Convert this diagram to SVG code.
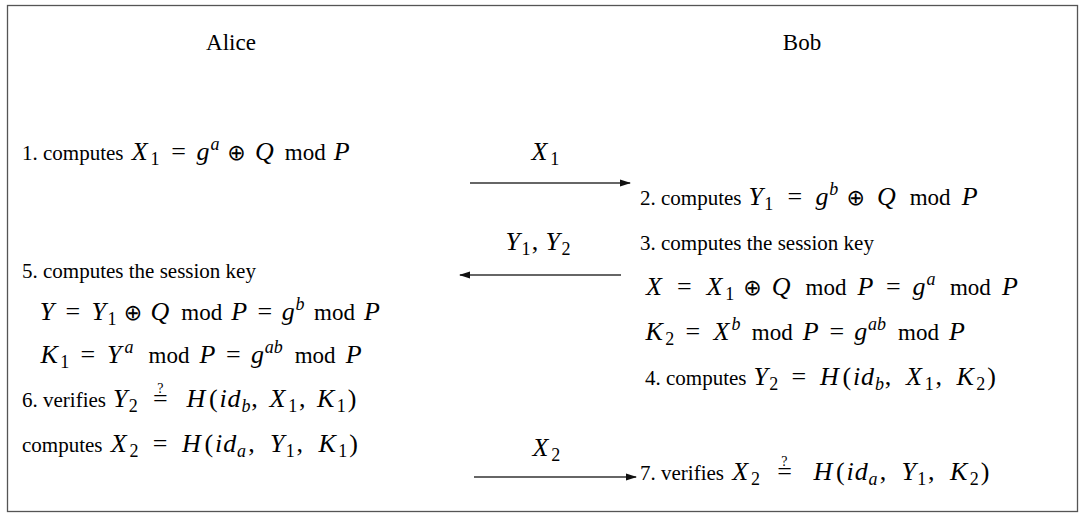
<svg xmlns="http://www.w3.org/2000/svg" width="1085" height="528" viewBox="0 0 1085 528">
<style>
.t{font-family:"Liberation Serif","Times New Roman",serif;font-size:21px;fill:#000}
.h{font-size:23px}
.m{font-style:italic;font-size:26px}
.u{font-size:26px}
.md{font-size:23px}
.sb{font-size:18px;baseline-shift:-5px}
.sp{font-size:18px;baseline-shift:10px;font-style:italic}
.q{font-size:14px;baseline-shift:14px}
.op{font-family:"DejaVu Sans","Noto Sans",sans-serif;font-size:22px}
.ar{stroke:#333;stroke-width:1.3;fill:none}
</style>
<defs>
<marker id="ah" markerWidth="11" markerHeight="8" refX="10" refY="4" orient="auto" markerUnits="userSpaceOnUse">
<path d="M0,0.5 L11,4 L0,7.5 z" fill="#111"/>
</marker>
</defs>
<rect x="7.5" y="5.5" width="1070" height="506" fill="#fff" stroke="#555" stroke-width="1.3"/>
<g id="alice"><text class="t h" x="231" y="50" text-anchor="middle">Alice</text></g>
<g id="bob"><text class="t h" x="802" y="50" text-anchor="middle">Bob</text></g>
<g id="alice-steps">
<text class="t" x="22" y="160">1. computes <tspan class="m" x="131.7">X</tspan><tspan class="sb" x="150.4">1</tspan><tspan class="u" x="171.2">=</tspan><tspan class="m" x="196.5">g</tspan><tspan class="sp" x="210.4">a</tspan><tspan class="op" x="227.2">⊕</tspan><tspan class="m" x="255.1">Q</tspan><tspan class="md" x="284.8">mod</tspan><tspan class="m" x="333.8">P</tspan></text>
<text class="t" x="22" y="278">5. computes the session key</text>
<text class="t" y="320"><tspan class="m" x="39.7">Y</tspan><tspan class="u" x="65.6">=</tspan><tspan class="m" x="91.6">Y</tspan><tspan class="sb" x="107.5">1</tspan><tspan class="op" x="123.7">⊕</tspan><tspan class="m" x="150.6">Q</tspan><tspan class="md" x="181.3">mod</tspan><tspan class="m" x="231.3">P</tspan><tspan class="u" x="257.4">=</tspan><tspan class="m" x="281.7">g</tspan><tspan class="sp" x="295.6">b</tspan><tspan class="md" x="314.1">mod</tspan><tspan class="m" x="364.1">P</tspan></text>
<text class="t" y="363"><tspan class="m" x="40.5">K</tspan><tspan class="sb" x="60.3">1</tspan><tspan class="u" x="80.6">=</tspan><tspan class="m" x="107.1">Y</tspan><tspan class="sp" x="124.6">a</tspan><tspan class="md" x="148.5">mod</tspan><tspan class="m" x="199.5">P</tspan><tspan class="u" x="226.1">=</tspan><tspan class="m" x="250.9">g</tspan><tspan class="sp" x="264.8">ab</tspan><tspan class="md" x="294.7">mod</tspan><tspan class="m" x="345.7">P</tspan></text>
<text class="t" x="22" y="407">6. verifies <tspan class="m" x="112.9">Y</tspan><tspan class="sb" x="128.8">2</tspan><tspan class="q" x="157.2">?</tspan><tspan class="u" x="153.1">=</tspan><tspan class="m" x="186.4">H</tspan><tspan class="u" x="209">(</tspan><tspan class="m" x="219.5">i</tspan><tspan class="m" x="227.6">d</tspan><tspan class="sb m" x="241.4">b</tspan><tspan class="u" x="251.2">,</tspan><tspan class="m" x="269.6">X</tspan><tspan class="sb" x="288.3">1</tspan><tspan class="u" x="299">,</tspan><tspan class="m" x="316.9">K</tspan><tspan class="sb" x="336.7">1</tspan><tspan class="u" x="347.8">)</tspan></text>
<text class="t" x="22" y="452">computes <tspan class="m" x="110.7">X</tspan><tspan class="sb" x="129.4">2</tspan><tspan class="u" x="152.7">=</tspan><tspan class="m" x="182">H</tspan><tspan class="u" x="204.6">(</tspan><tspan class="m" x="215.1">i</tspan><tspan class="m" x="223.2">d</tspan><tspan class="sb m" x="237">a</tspan><tspan class="u" x="248.3">,</tspan><tspan class="m" x="269.9">Y</tspan><tspan class="sb" x="285.8">1</tspan><tspan class="u" x="296.5">,</tspan><tspan class="m" x="318.4">K</tspan><tspan class="sb" x="338.2">1</tspan><tspan class="u" x="349.3">)</tspan></text>
</g>
<g id="bob-steps">
<text class="t" x="640" y="205">2. computes <tspan class="m" x="748.4">Y</tspan><tspan class="sb" x="764.3">1</tspan><tspan class="u" x="787.6">=</tspan><tspan class="m" x="815.4">g</tspan><tspan class="sp" x="829.3">b</tspan><tspan class="op" x="846.6">⊕</tspan><tspan class="m" x="877">Q</tspan><tspan class="md" x="909.7">mod</tspan><tspan class="m" x="961.7">P</tspan></text>
<text class="t" x="640" y="250">3. computes the session key</text>
<text class="t" y="295"><tspan class="m" x="646">X</tspan><tspan class="u" x="677">=</tspan><tspan class="m" x="706.6">X</tspan><tspan class="sb" x="725.3">1</tspan><tspan class="op" x="743.2">⊕</tspan><tspan class="m" x="771.8">Q</tspan><tspan class="md" x="805.5">mod</tspan><tspan class="m" x="857.5">P</tspan><tspan class="u" x="885.9">=</tspan><tspan class="m" x="912.5">g</tspan><tspan class="sp" x="926.4">a</tspan><tspan class="md" x="949.9">mod</tspan><tspan class="m" x="1001.9">P</tspan></text>
<text class="t" y="340"><tspan class="m" x="645.5">K</tspan><tspan class="sb" x="665.3">2</tspan><tspan class="u" x="685.6">=</tspan><tspan class="m" x="713.4">X</tspan><tspan class="sp" x="731.6">b</tspan><tspan class="md" x="751.8">mod</tspan><tspan class="m" x="802.8">P</tspan><tspan class="u" x="829.4">=</tspan><tspan class="m" x="854.2">g</tspan><tspan class="sp" x="868.1">ab</tspan><tspan class="md" x="898">mod</tspan><tspan class="m" x="949">P</tspan></text>
<text class="t" x="645" y="385">4. computes <tspan class="m" x="753.4">Y</tspan><tspan class="sb" x="769.3">2</tspan><tspan class="u" x="791.6">=</tspan><tspan class="m" x="819.9">H</tspan><tspan class="u" x="842.5">(</tspan><tspan class="m" x="853">i</tspan><tspan class="m" x="861.1">d</tspan><tspan class="sb m" x="874.9">b</tspan><tspan class="u" x="884.7">,</tspan><tspan class="m" x="906.1">X</tspan><tspan class="sb" x="924.8">1</tspan><tspan class="u" x="935.5">,</tspan><tspan class="m" x="956.4">K</tspan><tspan class="sb" x="976.2">2</tspan><tspan class="u" x="987.3">)</tspan></text>
<text class="t" x="640" y="480">7. verifies <tspan class="m" x="732.2">X</tspan><tspan class="sb" x="750.9">2</tspan><tspan class="q" x="781.3">?</tspan><tspan class="u" x="777.2">=</tspan><tspan class="m" x="813.5">H</tspan><tspan class="u" x="836.1">(</tspan><tspan class="m" x="846.6">i</tspan><tspan class="m" x="854.7">d</tspan><tspan class="sb m" x="868.5">a</tspan><tspan class="u" x="879.8">,</tspan><tspan class="m" x="901.4">Y</tspan><tspan class="sb" x="917.3">1</tspan><tspan class="u" x="928">,</tspan><tspan class="m" x="949.9">K</tspan><tspan class="sb" x="969.7">2</tspan><tspan class="u" x="980.8">)</tspan></text>
</g>
<g id="connectors">
<line class="ar" x1="470" y1="183" x2="630" y2="183" marker-end="url(#ah)"/>
<text class="t" y="160"><tspan class="m" x="531.5">X</tspan><tspan class="sb" x="550.2">1</tspan></text>
<line class="ar" x1="621" y1="275" x2="460" y2="275" marker-end="url(#ah)"/>
<text class="t" y="250"><tspan class="m" x="505.6">Y</tspan><tspan class="sb" x="521.5">1</tspan><tspan class="u" x="531.7">,</tspan><tspan class="m" x="545.5">Y</tspan><tspan class="sb" x="561.4">2</tspan></text>
<line class="ar" x1="474" y1="477" x2="636" y2="477" marker-end="url(#ah)"/>
<text class="t" y="456"><tspan class="m" x="532.5">X</tspan><tspan class="sb" x="551.2">2</tspan></text>
</g>
</svg>
